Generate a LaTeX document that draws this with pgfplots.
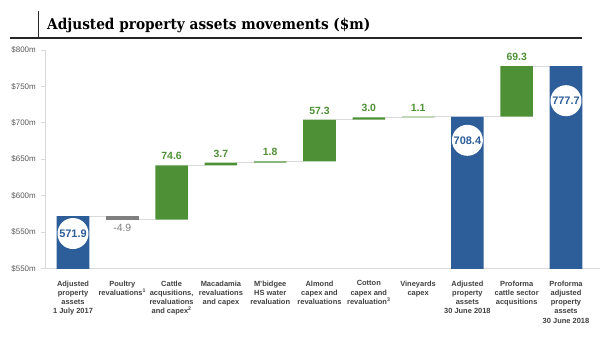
\documentclass[border=0pt]{standalone}
\usepackage{graphicx}
\usepackage{pgfplots}
\pgfplotsset{compat=1.18}
\usepackage{pgfplotstable}
\usepackage{fontspec}
\setmainfont{Liberation Sans}
\newfontfamily\titlefont{DejaVu Serif}
\definecolor{barblue}{HTML}{2E5E99}
\definecolor{bargreen}{HTML}{4E9035}
\definecolor{bargray}{HTML}{7F7F7F}
\definecolor{conn}{HTML}{D9D9D9}
\definecolor{axisgray}{HTML}{D9D9D9}
\definecolor{lbl}{HTML}{404040}
\definecolor{ticklbl}{HTML}{595959}

\pgfplotstableread{
pos base blue gray green
0 0 571.9 0 0
1 567.0 0 4.9 0
2 567.0 0 0 74.6
3 641.6 0 0 3.7
4 645.3 0 0 1.8
5 647.1 0 0 57.3
6 704.4 0 0 3.0
7 707.4 0 0 1.1
8 0 708.4 0 0
9 708.4 0 0 69.3
10 0 777.7 0 0
}\wftable

\pgfplotsset{
  wfgeom/.style={
    at={(45bp,73.5bp)}, anchor=south west,
    scale only axis, width=555bp, height=218.5bp,
    xmin=-0.568, xmax=10.69, ymin=500, ymax=800,
  }
}
\tikzset{
  glbl/.style={anchor=base, inner sep=0pt, text=bargreen, font=\bfseries\fontsize{10.5}{12}\selectfont, yshift=5.5bp},
  clbl/.style={circle, fill=white, draw=none, inner sep=0pt, minimum size=31bp, text=barblue, font=\bfseries\fontsize{11}{12}\selectfont},
}

\begin{document}
\begin{tikzpicture}
\path[use as bounding box] (0bp,0bp) rectangle (602bp,342bp);

% title
\draw[line width=1.4bp, black!85] (10bp,304bp) -- (582bp,304bp);
\draw[line width=1.4bp, black!85] (38.5bp,331bp) -- (38.5bp,304bp);
\node[anchor=base west, inner sep=0pt, font=\titlefont\bfseries\fontsize{15}{18}\selectfont] at (47bp,312.5bp) {\scalebox{0.915}[1]{Adjusted property assets movements (\$m)}};

% connectors
\begin{axis}[wfgeom, hide axis, unbounded coords=jump]
\addplot[conn, line width=1bp, no marks] coordinates {
 (0.33,571.9) (0.67,571.9) (0.8,nan)
 (1.33,567.0) (1.67,567.0) (1.8,nan)
 (2.33,641.6) (2.67,641.6) (2.8,nan)
 (3.33,645.3) (3.67,645.3) (3.8,nan)
 (4.33,647.1) (4.67,647.1) (4.8,nan)
 (5.33,704.4) (5.67,704.4) (5.8,nan)
 (6.33,707.4) (6.67,707.4) (6.8,nan)
 (7.33,708.5) (7.67,708.5) (7.8,nan)
 (8.33,708.4) (8.67,708.4) (8.8,nan)
 (9.33,777.7) (9.67,777.7)
};
\end{axis}

\begin{axis}[wfgeom,
  ybar stacked, bar width=0.66,
  axis x line*=bottom, axis y line*=left,
  axis line style={draw=axisgray, line width=0.8bp},
  ytick={500,550,600,650,700,750,800},
  yticklabels={\$550m,\$550m,\$600m,\$650m,\$700m,\$750m,\$800m},
  tick align=outside, major tick length=4bp,
  ytick style={draw=axisgray, line width=0.8bp},
  yticklabel style={font=\fontsize{8}{9}\selectfont, text=ticklbl, inner sep=0pt, xshift=-5bp},
  xtick={0,...,10},
  xtick style={draw=none},
  xticklabels={
    {Adjusted\\property\\assets\\1 July 2017},
    {Poultry\\revaluations\textsuperscript{1}},
    {Cattle\\acqusitions,\\revaluations\\and capex\textsuperscript{2}},
    {Macadamia\\revaluations\\and capex},
    {M'bidgee\\HS water\\revaluation},
    {Almond\\capex and\\revaluations},
    {Cotton\\capex and\\revaluation\textsuperscript{3}},
    {Vineyards\\capex},
    {Adjusted\\property\\assets\\30 June 2018},
    {Proforma\\cattle sector\\acqusitions},
    {Proforma\\adjusted\\property\\assets\\30 June 2018}},
  xticklabel style={font=\bfseries\fontsize{7.5}{9.3}\selectfont, text=lbl, align=center, anchor=north, inner sep=0pt, yshift=-8bp},
]
\addplot[fill=white, draw=none, opacity=0] table[x=pos, y=base] {\wftable};
\addplot[fill=barblue, draw=none] table[x=pos, y=blue] {\wftable};
\addplot[fill=bargray, draw=none] table[x=pos, y=gray] {\wftable};
\addplot[fill=bargreen, draw=none] table[x=pos, y=green] {\wftable};

\coordinate (g2) at (axis cs:2,641.6);
\coordinate (g3) at (axis cs:3,645.3);
\coordinate (g4) at (axis cs:4,647.1);
\coordinate (g5) at (axis cs:5,704.4);
\coordinate (g6) at (axis cs:6,707.4);
\coordinate (g7) at (axis cs:7,708.5);
\coordinate (g9) at (axis cs:9,777.7);
\coordinate (r1) at (axis cs:1,567.0);
\coordinate (c0) at (axis cs:0,548);
\coordinate (c8) at (axis cs:8,676);
\coordinate (c10) at (axis cs:10,730.4);
\end{axis}

\node[glbl] at (g2) {74.6};
\node[glbl] at (g3) {3.7};
\node[glbl] at (g4) {1.8};
\node[glbl] at (g5) {57.3};
\node[glbl] at (g6) {3.0};
\node[glbl] at (g7) {1.1};
\node[glbl] at (g9) {69.3};
\node[anchor=base, inner sep=0pt, text=bargray, font=\fontsize{10.5}{12}\selectfont, yshift=-11.5bp] at (r1) {-4.9};

\node[clbl] at (c0) {571.9};
\node[clbl] at (c8) {708.4};
\node[clbl] at (c10) {777.7};
\end{tikzpicture}
\end{document}
